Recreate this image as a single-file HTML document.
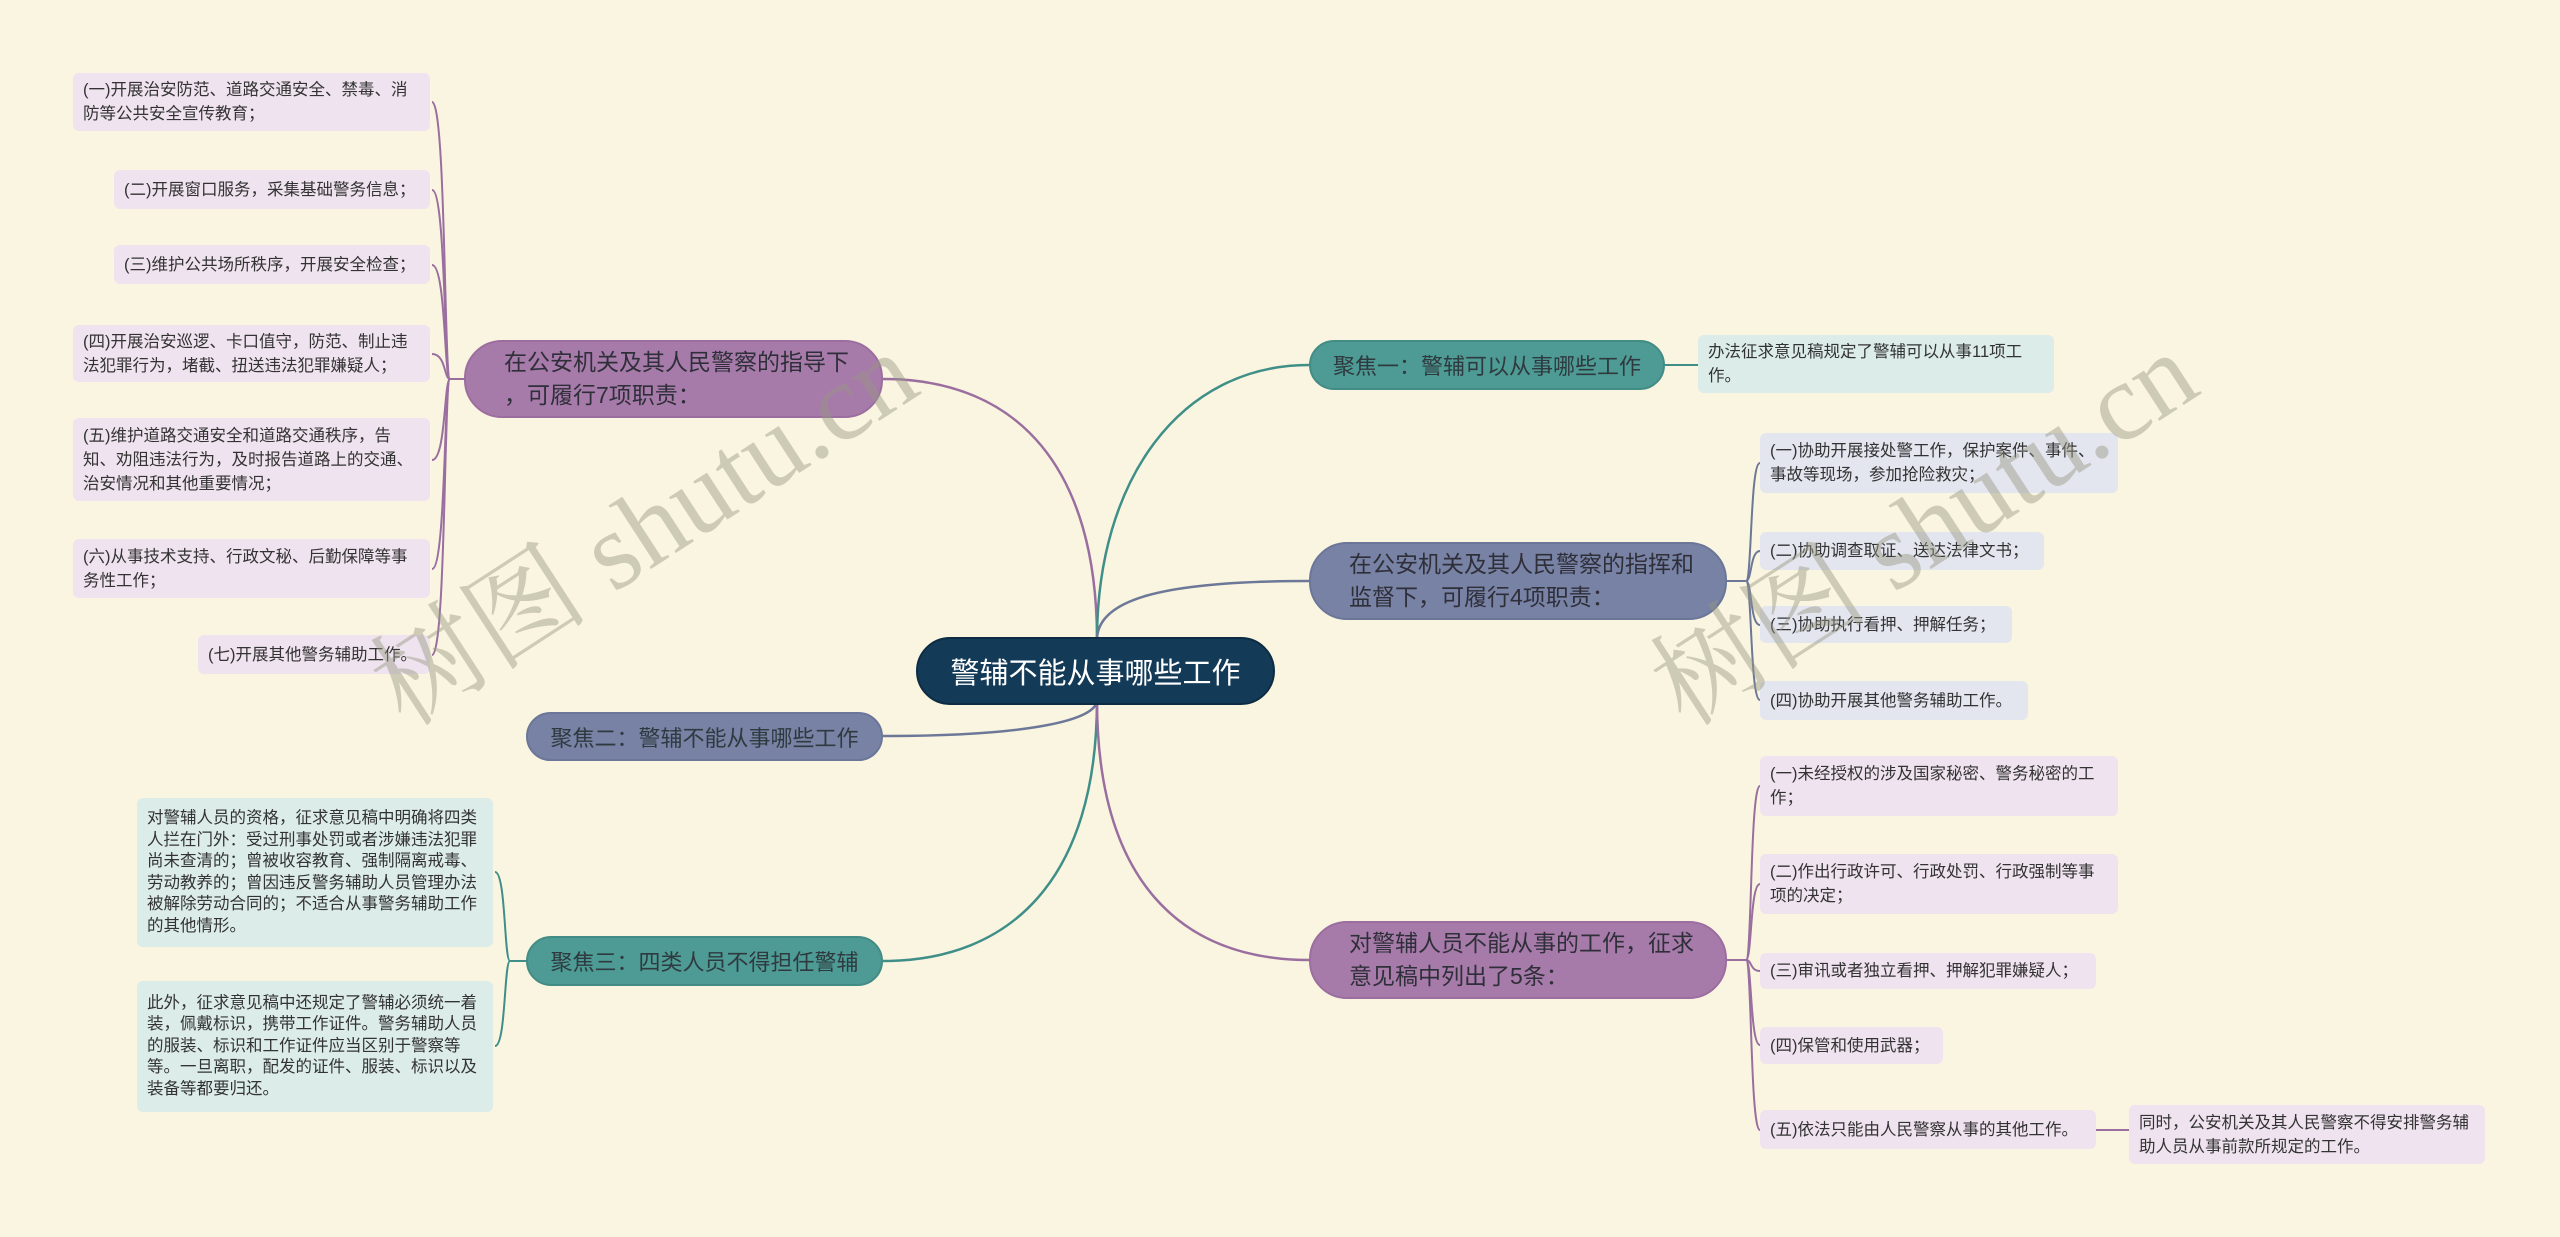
<!DOCTYPE html>
<html><head><meta charset="utf-8"><style>
body{margin:0;width:2560px;height:1237px;background:#faf5e0;position:relative;overflow:hidden;font-family:"Liberation Sans","Noto Sans CJK SC",sans-serif;}
.n{position:absolute;box-sizing:border-box;}
.c{background:#133a57;color:#fff;border-radius:34px;font-size:29px;display:flex;align-items:center;justify-content:center;border:2px solid #0d2c44;}
.m{border-radius:38px;font-size:23px;color:#2f2f3a;display:flex;align-items:center;padding:0 0 0 38px;line-height:33px;white-space:nowrap;}
.f{border-radius:25px;font-size:22px;color:#2f3a40;display:flex;align-items:center;justify-content:center;}
.pu{background:#a77ba9;border:2px solid #9c6d9f;}
.sl{background:#7782a4;border:2px solid #6b7698;}
.te{background:#4d9b94;border:2px solid #438c86;}
.k{border-radius:6px;font-size:16.5px;color:#333;padding:0 10px;display:flex;align-items:center;line-height:24px;}
.lp{background:#efe3ef;}
.lb{background:#e3e6ef;}
.lt{background:#dcece9;}
.wm{position:absolute;font-family:"Liberation Serif","Noto Serif CJK SC",serif;font-size:110px;color:rgba(150,150,130,0.45);transform:rotate(-33deg);white-space:nowrap;transform-origin:left center;}
</style></head><body>
<svg width="2560" height="1237" style="position:absolute;left:0;top:0" fill="none" stroke-width="2.5">
<path d="M1097 640 C1097 470 1020 379 883 379" stroke="#9a6fa0"/>
<path d="M1097 700 C1097 720 1030 736 883 736" stroke="#6d7898"/>
<path d="M1097 700 C1097 880 1010 961 883 961" stroke="#3f8f88"/>
<path d="M1097 640 C1097 480 1180 365 1309 365" stroke="#3f8f88"/>
<path d="M1097 640 C1097 600 1160 581 1309 581" stroke="#6d7898"/>
<path d="M1097 700 C1097 880 1180 960 1309 960" stroke="#9a6fa0"/>
<g stroke="#9a6fa0" stroke-width="2">
<path d="M464 379 H450"/>
<path d="M450 379 C444 379 446 102 432 102"/>
<path d="M450 379 C444 379 446 190 432 190"/>
<path d="M450 379 C444 379 446 265 432 265"/>
<path d="M450 379 C444 379 446 354 432 354"/>
<path d="M450 379 C444 379 446 460 432 460"/>
<path d="M450 379 C444 379 446 569 432 569"/>
<path d="M450 379 C444 379 446 655 432 655"/>
</g>
<g stroke="#3f8f88" stroke-width="2">
<path d="M526 961 H510"/>
<path d="M510 961 C504 961 506 872 495 872"/>
<path d="M510 961 C504 961 506 1046 495 1046"/>
<path d="M1665 365 H1698"/>
</g>
<g stroke="#6d7898" stroke-width="2">
<path d="M1727 581 H1746"/>
<path d="M1746 581 C1752 581 1750 463 1760 463"/>
<path d="M1746 581 C1752 581 1750 551 1760 551"/>
<path d="M1746 581 C1752 581 1750 625 1760 625"/>
<path d="M1746 581 C1752 581 1750 700 1760 700"/>
</g>
<g stroke="#9a6fa0" stroke-width="2">
<path d="M1727 960 H1746"/>
<path d="M1746 960 C1752 960 1750 786 1760 786"/>
<path d="M1746 960 C1752 960 1750 884 1760 884"/>
<path d="M1746 960 C1752 960 1750 971 1760 971"/>
<path d="M1746 960 C1752 960 1750 1045 1760 1045"/>
<path d="M1746 960 C1752 960 1750 1130 1760 1130"/>
<path d="M2096 1130 H2129"/>
</g>
</svg>

<div class="n c" style="left:916px;top:637px;width:359px;height:68px">警辅不能从事哪些工作</div>

<div class="n m pu" style="left:464px;top:340px;width:419px;height:78px"><div>在公安机关及其人民警察的指导下<br>，可履行7项职责：</div></div>
<div class="n k lp" style="left:73px;top:73px;width:357px;height:58px">(一)开展治安防范、道路交通安全、禁毒、消防等公共安全宣传教育；</div>
<div class="n k lp" style="left:114px;top:170px;width:316px;height:39px">(二)开展窗口服务，采集基础警务信息；</div>
<div class="n k lp" style="left:114px;top:245px;width:316px;height:39px">(三)维护公共场所秩序，开展安全检查；</div>
<div class="n k lp" style="left:73px;top:325px;width:357px;height:57px">(四)开展治安巡逻、卡口值守，防范、制止违法犯罪行为，堵截、扭送违法犯罪嫌疑人；</div>
<div class="n k lp" style="left:73px;top:418px;width:357px;height:83px">(五)维护道路交通安全和道路交通秩序，告知、劝阻违法行为，及时报告道路上的交通、治安情况和其他重要情况；</div>
<div class="n k lp" style="left:73px;top:539px;width:357px;height:59px">(六)从事技术支持、行政文秘、后勤保障等事务性工作；</div>
<div class="n k lp" style="left:198px;top:635px;width:232px;height:39px">(七)开展其他警务辅助工作。</div>

<div class="n f sl" style="left:526px;top:712px;width:357px;height:49px">聚焦二：警辅不能从事哪些工作</div>
<div class="n f te" style="left:526px;top:936px;width:357px;height:50px">聚焦三：四类人员不得担任警辅</div>
<div class="n k lt" style="left:137px;top:798px;width:356px;height:149px;line-height:21.5px">对警辅人员的资格，征求意见稿中明确将四类人拦在门外：受过刑事处罚或者涉嫌违法犯罪尚未查清的；曾被收容教育、强制隔离戒毒、劳动教养的；曾因违反警务辅助人员管理办法被解除劳动合同的；不适合从事警务辅助工作的其他情形。</div>
<div class="n k lt" style="left:137px;top:981px;width:356px;height:131px;line-height:21.5px">此外，征求意见稿中还规定了警辅必须统一着装，佩戴标识，携带工作证件。警务辅助人员的服装、标识和工作证件应当区别于警察等等。一旦离职，配发的证件、服装、标识以及装备等都要归还。</div>

<div class="n f te" style="left:1309px;top:340px;width:356px;height:50px">聚焦一：警辅可以从事哪些工作</div>
<div class="n k lt" style="left:1698px;top:335px;width:356px;height:58px">办法征求意见稿规定了警辅可以从事11项工作。</div>

<div class="n m sl" style="left:1309px;top:542px;width:418px;height:78px"><div>在公安机关及其人民警察的指挥和<br>监督下，可履行4项职责：</div></div>
<div class="n k lb" style="left:1760px;top:433px;width:358px;height:60px">(一)协助开展接处警工作，保护案件、事件、事故等现场，参加抢险救灾；</div>
<div class="n k lb" style="left:1760px;top:532px;width:284px;height:38px">(二)协助调查取证、送达法律文书；</div>
<div class="n k lb" style="left:1760px;top:606px;width:252px;height:37px">(三)协助执行看押、押解任务；</div>
<div class="n k lb" style="left:1760px;top:681px;width:268px;height:39px">(四)协助开展其他警务辅助工作。</div>

<div class="n m pu" style="left:1309px;top:921px;width:418px;height:78px"><div>对警辅人员不能从事的工作，征求<br>意见稿中列出了5条：</div></div>
<div class="n k lp" style="left:1760px;top:756px;width:358px;height:60px">(一)未经授权的涉及国家秘密、警务秘密的工作；</div>
<div class="n k lp" style="left:1760px;top:854px;width:358px;height:60px">(二)作出行政许可、行政处罚、行政强制等事项的决定；</div>
<div class="n k lp" style="left:1760px;top:953px;width:336px;height:36px">(三)审讯或者独立看押、押解犯罪嫌疑人；</div>
<div class="n k lp" style="left:1760px;top:1027px;width:183px;height:37px">(四)保管和使用武器；</div>
<div class="n k lp" style="left:1760px;top:1110px;width:336px;height:39px">(五)依法只能由人民警察从事的其他工作。</div>
<div class="n k lp" style="left:2129px;top:1105px;width:356px;height:59px">同时，公安机关及其人民警察不得安排警务辅助人员从事前款所规定的工作。</div>

<div class="wm" style="left:380px;top:610px">树图 shutu.cn</div>
<div class="wm" style="left:1660px;top:610px">树图 shutu.cn</div>
</body></html>
